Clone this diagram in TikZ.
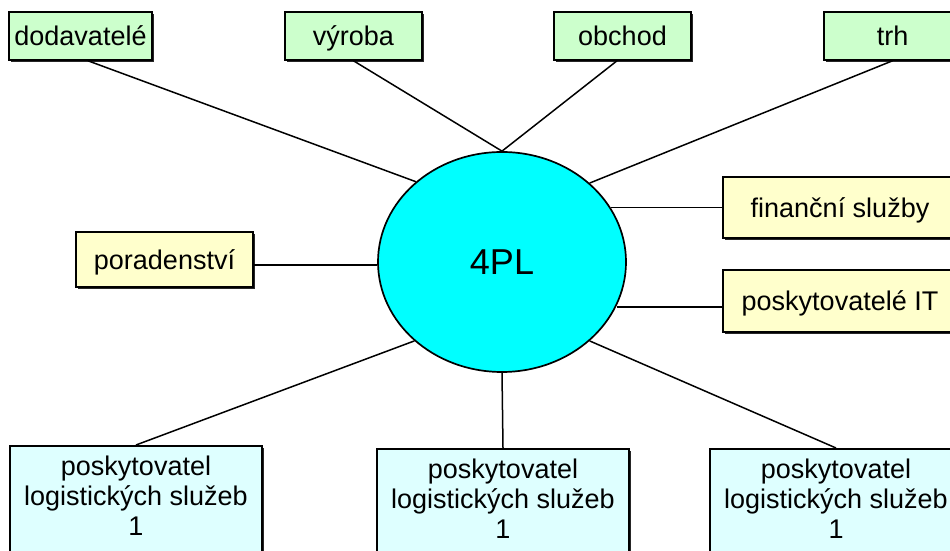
\documentclass[tikz,border=0pt]{standalone}
\usepackage{fontspec}
\setmainfont{Liberation Sans}
\usetikzlibrary{shapes.geometric,shadows}

\definecolor{boxgreen}{RGB}{204,255,204}
\definecolor{boxyellow}{RGB}{255,255,204}
\definecolor{boxcyan}{RGB}{222,255,255}
\definecolor{hubcyan}{RGB}{0,255,255}

\begin{document}
\begin{tikzpicture}[x=1pt,y=1pt,
  basebox/.style={rectangle, draw=black, line width=1.6pt, inner sep=0pt,
    font=\fontsize{27}{30}\selectfont,
    drop shadow={shadow xshift=1.8pt, shadow yshift=-1.8pt, fill=black, opacity=0.85}},
  onebox/.style={basebox, text height=19.5pt, text depth=0pt},
  partner/.style={onebox, fill=boxgreen, minimum height=48pt},
  service/.style={onebox, fill=boxyellow},
  provider/.style={basebox, fill=boxcyan, align=center, anchor=north,
    minimum width=252pt, inner xsep=0pt, inner ysep=10.5pt, text depth=70pt},
  hub/.style={ellipse, draw=black, line width=1.7pt, fill=hubcyan, inner sep=0pt,
    minimum width=248pt, minimum height=220pt, font=\fontsize{36}{40}\selectfont},
  link/.style={draw=black, line width=1.5pt}
]
\useasboundingbox (0,0) rectangle (950,551);
\clip (0,0) rectangle (950,551);
\fill[white] (0,0) rectangle (950,551);

% central hub
\node[hub] (c) at (502,289) {4PL};

% partners along the top
\node[partner, minimum width=143pt] (dod) at (80.5,515) {dodavatelé};
\node[partner, minimum width=137pt] (vyr) at (353.5,515) {výroba};
\node[partner, minimum width=137pt] (obc) at (622.5,515) {obchod};
\node[partner, minimum width=137pt] (trh) at (892.5,515) {trh};

% services at the sides
\node[service, minimum width=177pt, minimum height=55pt] (por) at (164.5,291.5) {poradenství};
\node[service, minimum width=234pt, minimum height=61pt] (fin) at (840,343.5) {finanční služby};
\node[service, minimum width=234pt, minimum height=62pt] (it) at (840,250) {poskytovatelé IT};

% logistics providers along the bottom
\node[provider] (lp1) at (136,106) {poskytovatel\\logistických služeb\\1};
\node[provider] (lp2) at (503,103) {poskytovatel\\logistických služeb\\1};
\node[provider] (lp3) at (836,103) {poskytovatel\\logistických služeb\\1};

% connectors
\draw[link] ([xshift=7.5pt]dod.south) -- (c.137.8);
\draw[link] (vyr.south) -- (c.north);
\draw[link] ([xshift=-5.5pt]obc.south) -- (c.north);
\draw[link] (trh.south) -- (c.42.6);
\draw[link] ([yshift=-5.5pt]por.east) -- ([yshift=-5.5pt]por.east -| c.west);
\draw[link] (fin.west) -- (fin.west -| c.26);
\draw[link] ([yshift=-6pt]it.west) -- ([yshift=-6pt]it.west -| c.-21.7);
\draw[link] (lp1.north) -- (c.222.2);
\draw[link] (lp2.north) -- (c.south);
\draw[link] (lp3.north) -- (c.-42.9);
\end{tikzpicture}
\end{document}
